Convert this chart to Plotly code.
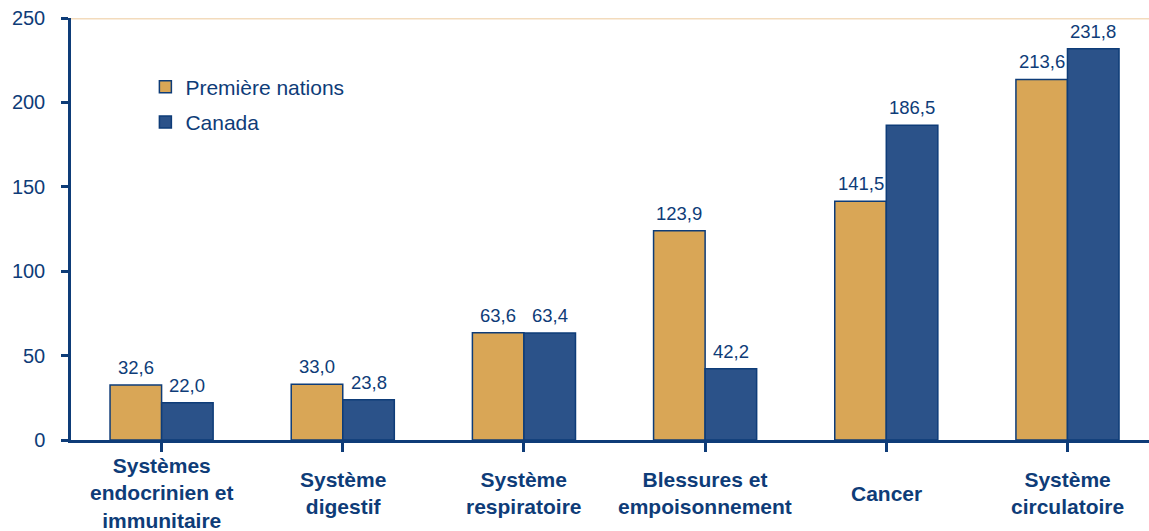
import plotly.graph_objects as go

# Taux de mortalité par cause
categories = [
    "Systèmes<br>endocrinien et<br>immunitaire",
    "Système<br>digestif",
    "Système<br>respiratoire",
    "Blessures et<br>empoisonnement",
    "Cancer",
    "Système<br>circulatoire",
]
premieres_nations = [32.6, 33.0, 63.6, 123.9, 141.5, 213.6]
canada = [22.0, 23.8, 63.4, 42.2, 186.5, 231.8]
y_ticks = [0, 50, 100, 150, 200, 250]

NAVY = "#0E3C78"
GOLD = "#D9A656"
BLUE = "#2B5289"
FONT = "Liberation Sans, Arial, sans-serif"

x_idx = list(range(len(categories)))


def fmt(v):
    return f"{v:.1f}".replace(".", ",")


fig = go.Figure()
fig.add_trace(go.Bar(
    x=x_idx, y=premieres_nations, name="Première nations",
    marker=dict(color=GOLD, line=dict(color=NAVY, width=1.5)),
    legendgroup="pn", hoverinfo="skip",
))
fig.add_trace(go.Bar(
    x=x_idx, y=canada, name="Canada",
    marker=dict(color=BLUE, line=dict(color=NAVY, width=1.5)),
    legendgroup="ca", hoverinfo="skip",
))

annotations = []
half_bar = 25.75
for i, (a, b) in enumerate(zip(premieres_nations, canada)):
    for val, shift in ((a, -half_bar), (b, half_bar)):
        annotations.append(dict(
            x=i, y=val, xref="x", yref="y", text=fmt(val),
            showarrow=False, xshift=shift, yanchor="bottom", yshift=5,
            font=dict(family=FONT, size=18.5, color=NAVY),
        ))
    annotations.append(dict(
        x=i, y=-0.1256, xref="x", yref="paper", text=f"<b>{categories[i]}</b>",
        showarrow=False, yanchor="middle", xanchor="center",
        font=dict(family=FONT, size=21, color=NAVY),
    ))

fig.update_layout(
    width=1149, height=531,
    margin=dict(l=71, r=0, t=18, b=91),
    paper_bgcolor="white", plot_bgcolor="white",
    barmode="group", bargap=0.431, bargroupgap=0,
    font=dict(family=FONT, color=NAVY),
    showlegend=True,
    legend=dict(
        x=0.069, y=0.885, xanchor="left", yanchor="top",
        bgcolor="rgba(0,0,0,0)", font=dict(family=FONT, size=21, color=NAVY),
        tracegroupgap=5, itemclick=False, itemdoubleclick=False,
    ),
    annotations=annotations,
    shapes=[dict(
        type="line", xref="paper", yref="y", x0=0, x1=1, y0=250, y1=250,
        line=dict(color="#F3DBBC", width=3), layer="below",
    )],
)

fig.update_xaxes(
    range=[-0.5, 5.45], showline=True, linecolor=NAVY, linewidth=2.5,
    ticks="outside", tickson="boundaries", ticklen=9, tickwidth=2.5,
    tickcolor=NAVY, showticklabels=False, showgrid=False, zeroline=False,
    tickvals=x_idx, fixedrange=True,
)
fig.update_yaxes(
    range=[0, 250], tickvals=y_ticks, showline=True, linecolor=NAVY,
    linewidth=2.5, ticks="outside", ticklen=7, tickwidth=2.5, tickcolor=NAVY,
    tickfont=dict(family=FONT, size=20, color=NAVY), ticklabelstandoff=12,
    showgrid=False, zeroline=False, fixedrange=True,
)

fig.write_html("out.html", config={"displayModeBar": False})
